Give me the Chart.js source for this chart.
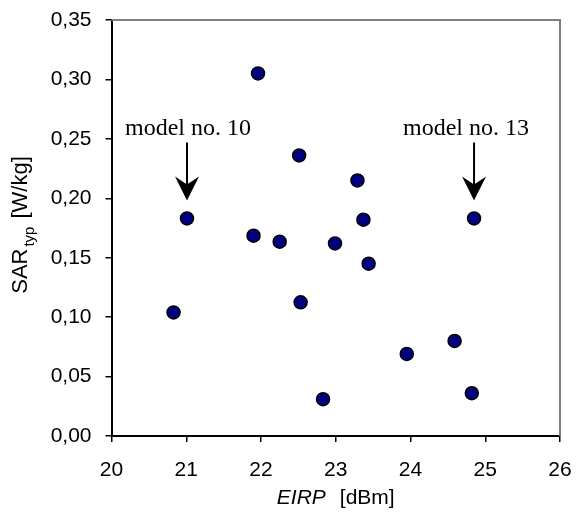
<!DOCTYPE html>
<html>
<head>
<meta charset="utf-8">
<script src="https://cdn.jsdelivr.net/npm/chart.js@4/dist/chart.umd.min.js"></script>
<style>
html,body{margin:0;padding:0;background:#fff;}
#wrap{width:576px;height:530px;}
</style>
</head>
<body>
<div id="wrap"><canvas id="c" width="576" height="530"></canvas></div>
<script>
const eirp = [21.96, 22.51, 21.01, 21.90, 22.25, 23.29, 23.37, 24.85, 22.99, 23.44, 23.95, 24.59, 24.82, 20.83, 22.53, 22.83];
const sarTyp = [0.305, 0.236, 0.183, 0.1685, 0.1635, 0.215, 0.182, 0.183, 0.162, 0.145, 0.069, 0.080, 0.036, 0.104, 0.1125, 0.031];
const annotLabels = ['model no. 10', 'model no. 13'];
const annotX = [21.01, 24.85];
const annotY = [0.183, 0.183];
const xTicks = [20, 21, 22, 23, 24, 25, 26];
const yTicks = [0, 0.05, 0.10, 0.15, 0.20, 0.25, 0.30, 0.35];

const data = eirp.map((x, i) => ({x: x, y: sarTyp[i]}));
const labelShift = [1, -8];

const SANS = '"Liberation Sans", Arial, sans-serif';

const extras = {
  id: 'extras',
  afterDraw(chart) {
    const ctx = chart.ctx;
    const a = chart.chartArea;
    const xs = chart.scales.x, ys = chart.scales.y;
    ctx.save();
    ctx.strokeStyle = '#808080';
    ctx.lineWidth = 2;
    ctx.beginPath();
    ctx.moveTo(a.left, a.top);
    ctx.lineTo(a.right, a.top);
    ctx.lineTo(a.right, a.bottom);
    ctx.stroke();
    annotLabels.forEach((lab, i) => {
      const px = xs.getPixelForValue(annotX[i]);
      const py = ys.getPixelForValue(annotY[i]);
      const tip = py - 18;
      ctx.fillStyle = '#000';
      ctx.strokeStyle = '#000';
      ctx.lineWidth = 2;
      ctx.beginPath();
      ctx.moveTo(px, tip - 58);
      ctx.lineTo(px, tip - 14);
      ctx.stroke();
      ctx.beginPath();
      ctx.moveTo(px, tip);
      ctx.lineTo(px - 12, tip - 24);
      ctx.lineTo(px, tip - 16);
      ctx.lineTo(px + 12, tip - 24);
      ctx.closePath();
      ctx.fill();
      ctx.font = '24px "Liberation Serif", "Times New Roman", serif';
      ctx.textAlign = 'center';
      ctx.textBaseline = 'alphabetic';
      ctx.fillText(lab, px + labelShift[i], tip - 65);
    });
    const font = '21px ' + SANS;
    const ifont = 'italic 21px ' + SANS;
    const cx = (a.left + a.right) / 2;
    ctx.textBaseline = 'alphabetic';
    ctx.textAlign = 'left';
    ctx.font = ifont;
    const w1 = ctx.measureText('EIRP').width;
    ctx.font = font;
    const w2 = ctx.measureText('[dBm]').width;
    const gap = 14;
    let sx = cx - (w1 + gap + w2) / 2;
    ctx.font = ifont;
    ctx.fillText('EIRP', sx, 504);
    ctx.font = font;
    ctx.fillText('[dBm]', sx + w1 + gap, 504);
    ctx.save();
    ctx.translate(27, 225);
    ctx.rotate(-Math.PI / 2);
    const sfont = '15px ' + SANS;
    const tfont = '22px ' + SANS;
    ctx.font = tfont; const t1 = ctx.measureText('SAR').width;
    ctx.font = sfont; const t2 = ctx.measureText('typ').width;
    ctx.font = tfont; const t3 = ctx.measureText('[W/kg]').width;
    const g1 = 2, g2 = 8;
    let ox = -(t1 + g1 + t2 + g2 + t3) / 2;
    ctx.font = tfont; ctx.fillText('SAR', ox, 0);
    ctx.font = sfont; ctx.fillText('typ', ox + t1 + g1, 7);
    ctx.font = tfont; ctx.fillText('[W/kg]', ox + t1 + g1 + t2 + g2, 0);
    ctx.restore();
    ctx.restore();
  }
};

new Chart(document.getElementById('c'), {
  type: 'scatter',
  data: {
    datasets: [{
      data: data,
      backgroundColor: '#000080',
      borderColor: '#000000',
      borderWidth: 1.5,
      pointRadius: 6.5,
      pointHoverRadius: 6.5
    }]
  },
  options: {
    responsive: false,
    animation: false,
    events: [],
    layout: {padding: {left: 0, right: 16, top: 20, bottom: 0}},
    plugins: {legend: {display: false}, tooltip: {enabled: false}},
    scales: {
      x: {
        type: 'linear',
        min: 20, max: 26,
        afterBuildTicks(s) { s.ticks = xTicks.map(v => ({value: v})); },
        afterFit(s) { s.height = 94; s.paddingLeft = 0; s.paddingRight = 0; },
        grid: {display: true, drawOnChartArea: false, drawTicks: true, tickLength: 6, color: '#000', lineWidth: 1.5},
        border: {display: true, color: '#000', width: 2},
        ticks: {color: '#000', padding: 16, font: {family: SANS, size: 21}, maxRotation: 0,
          callback: v => String(v)}
      },
      y: {
        type: 'linear',
        min: 0, max: 0.35,
        afterBuildTicks(s) { s.ticks = yTicks.map(v => ({value: v})); },
        afterFit(s) { s.width = 111.5; s.paddingTop = 0; s.paddingBottom = 0; },
        grid: {display: true, drawOnChartArea: false, drawTicks: true, tickLength: 6, color: '#000', lineWidth: 1.5},
        border: {display: true, color: '#000', width: 2},
        ticks: {color: '#000', padding: 14, font: {family: SANS, size: 21},
          callback: v => v.toFixed(2).replace('.', ',')}
      }
    }
  },
  plugins: [extras]
});
</script>
</body>
</html>
